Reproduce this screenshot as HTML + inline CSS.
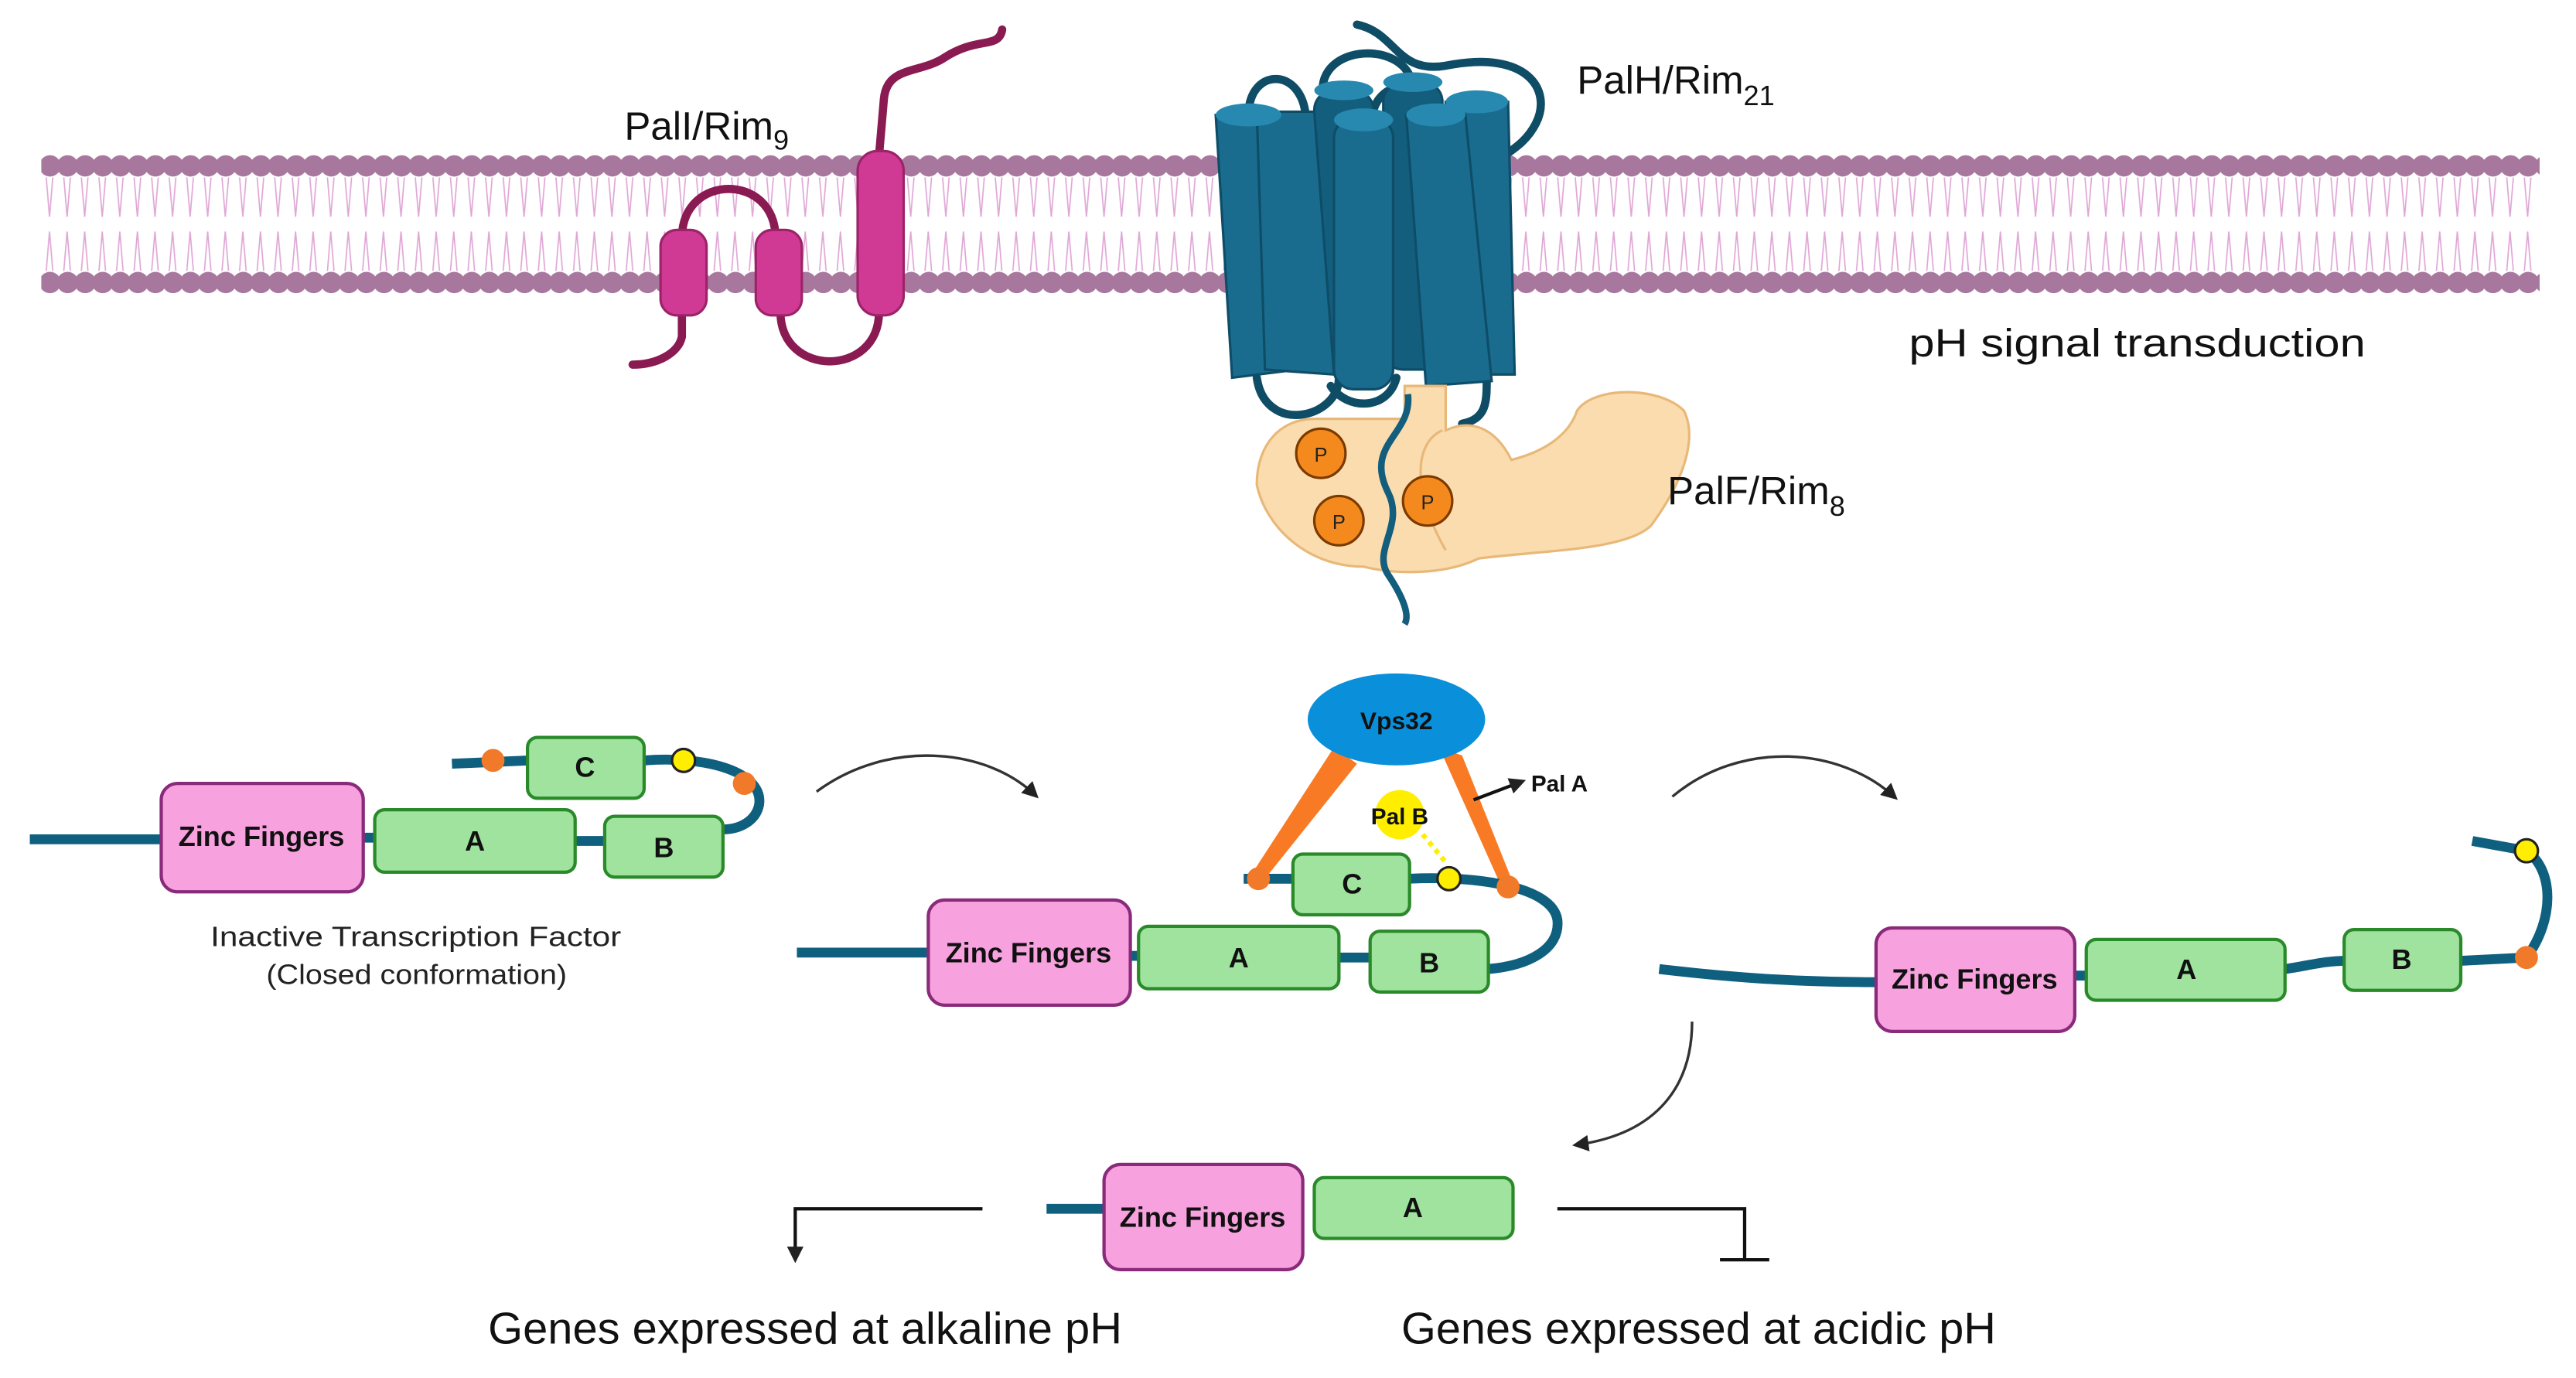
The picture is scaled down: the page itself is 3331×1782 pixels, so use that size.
<!DOCTYPE html>
<html><head><meta charset="utf-8"><style>
html,body{margin:0;padding:0;background:#fff}
svg{display:block}
text{font-family:"Liberation Sans",sans-serif}
</style></head><body>
<svg width="3331" height="1782" viewBox="0 0 1568 839" xmlns="http://www.w3.org/2000/svg">
<defs>
<pattern id="lip" x="25" y="0" width="10.7" height="839" patternUnits="userSpaceOnUse">
<path d="M3,108 L5,132 M7,108 L5,132 M3,165 L5,141 M7,165 L5,141" stroke="#e0a6d6" stroke-width="0.8" fill="none"/>
<circle cx="5.3" cy="101" r="6.5" fill="#a8779e"/>
<circle cx="5.3" cy="172" r="6.5" fill="#a8779e"/>
</pattern>
<marker id="ah" markerWidth="10" markerHeight="10" refX="7" refY="5" orient="auto" markerUnits="userSpaceOnUse">
<path d="M0,0 L10,5 L0,10 z" fill="#222"/>
</marker>
</defs>
<rect x="25" y="90" width="1521" height="92" fill="url(#lip)"/>

<!-- PalI -->
<g fill="none" stroke="#8a1a52" stroke-width="5" stroke-linecap="round">
<path d="M415,145 C415,105 472,105 472,145"/>
<path d="M415,190 L415,205 C413,215 400,222 385,222"/>
<path d="M475,190 C475,230 535,230 535,190"/>
<path d="M535,95 L538,60 C540,40 560,45 575,35 C595,22 608,30 610,18"/>
</g>
<g fill="#d13a94" stroke="#9c2368" stroke-width="1.5">
<rect x="402" y="140" width="28" height="52" rx="10"/>
<rect x="460" y="140" width="28" height="52" rx="10"/>
<rect x="522" y="92" width="28" height="100" rx="12"/>
</g>
<text x="380" y="85" font-size="24" fill="#111">PalI/Rim<tspan font-size="17" dy="6">9</tspan></text>

<!-- PalH -->
<g fill="none" stroke="#0f4d66" stroke-width="5" stroke-linecap="round">
<path d="M826,15 C850,20 850,45 880,40 C930,30 945,55 935,75 C925,95 905,95 905,110"/>
<path d="M760,70 C760,40 795,40 795,75"/>
<path d="M805,55 C805,25 860,25 860,55"/>
<path d="M835,75 C835,45 875,45 875,75"/>
<path d="M765,230 C770,265 815,255 815,230"/>
<path d="M810,235 C820,250 845,250 850,230"/>
<path d="M905,230 C905,245 905,255 890,258"/>
</g>
<g fill="#1a6c8f" stroke="#0e4d68" stroke-width="1.5">
<rect x="800" y="55" width="36" height="170" rx="12" fill="#135d7d"/>
<rect x="842" y="50" width="36" height="175" rx="12" fill="#135d7d"/>
<polygon points="740,70 780,70 790,225 750,230" />
<polygon points="880,62 918,62 922,228 888,228" />
<polygon points="765,68 800,68 812,228 770,225" />
<rect x="812" y="72" width="36" height="165" rx="12"/>
<polygon points="856,70 892,70 908,232 868,235"/>
</g>
<g fill="#2789b0">
<ellipse cx="760" cy="70" rx="20" ry="7"/><ellipse cx="830" cy="73" rx="18" ry="7"/>
<ellipse cx="874" cy="70" rx="18" ry="7"/><ellipse cx="899" cy="62" rx="19" ry="7"/>
<ellipse cx="860" cy="50" rx="18" ry="6"/><ellipse cx="818" cy="55" rx="18" ry="6"/>
</g>
<text x="960" y="57" font-size="24" fill="#111">PalH/Rim<tspan font-size="17" dy="7">21</tspan></text>
<text x="1162" y="217" font-size="24" fill="#111" textLength="278" lengthAdjust="spacingAndGlyphs">pH signal transduction</text>

<!-- PalF -->
<path d="M855,235 L880,235 L880,262 C895,255 910,260 920,280 C940,275 955,265 960,250 C970,235 1010,235 1025,250 C1035,270 1020,300 1005,320 C990,335 940,335 900,340 C880,350 850,350 830,345 C795,345 770,320 765,295 C765,270 780,255 800,255 L855,255 z" fill="#fbdcaf" stroke="#e8b878" stroke-width="1.5"/>
<path d="M878,262 C860,270 860,300 880,335" fill="none" stroke="#e8b878" stroke-width="1.5"/>
<path d="M857,240 C860,265 830,270 845,300 C855,320 835,335 845,350 C855,365 858,375 855,380" fill="none" stroke="#135d7d" stroke-width="4"/>
<g fill="#f48a1e" stroke="#7a3a00" stroke-width="1.5">
<circle cx="804" cy="276" r="15"/><circle cx="869" cy="305" r="15"/><circle cx="815" cy="317" r="15"/>
</g>
<g font-size="12" fill="#222" text-anchor="middle"><text x="804" y="281">P</text><text x="869" y="310">P</text><text x="815" y="322">P</text></g>
<text x="1015" y="307" font-size="24" fill="#111">PalF/Rim<tspan font-size="17" dy="7">8</tspan></text>

<!-- Left inactive TF -->
<g fill="none" stroke="#0f5f7f" stroke-width="6">
<path d="M18,511 L100,511"/><path d="M220,510 L230,510 M350,512 L370,512"/>
<path d="M275,465 L322,463 M392,463 C430,460 465,470 462,490 C460,500 450,505 440,505"/>
</g>
<g stroke-width="2">
<rect x="98" y="477" width="123" height="66" rx="10" fill="#f7a1df" stroke="#8a2a7a"/>
<rect x="228" y="493" width="122" height="38" rx="6" fill="#9fe39f" stroke="#2a8a2a"/>
<rect x="368" y="497" width="72" height="37" rx="6" fill="#9fe39f" stroke="#2a8a2a"/>
<rect x="321" y="449" width="71" height="37" rx="6" fill="#9fe39f" stroke="#2a8a2a"/>
</g>
<circle cx="300" cy="463" r="7" fill="#f07a2a"/><circle cx="416" cy="463" r="7" fill="#ffee00" stroke="#222" stroke-width="1.5"/><circle cx="453" cy="477" r="7" fill="#f07a2a"/>
<g font-weight="bold" font-size="17" fill="#111" text-anchor="middle">
<text x="159" y="515">Zinc Fingers</text><text x="289" y="518">A</text><text x="404" y="522">B</text><text x="356" y="473">C</text>
</g>
<g font-size="17" fill="#222">
<text x="128" y="576" textLength="250" lengthAdjust="spacingAndGlyphs">Inactive Transcription Factor</text>
<text x="162" y="599" textLength="183" lengthAdjust="spacingAndGlyphs">(Closed conformation)</text></g>

<path d="M497,482 C540,450 600,455 630,484" fill="none" stroke="#333" stroke-width="1.6" marker-end="url(#ah)"/>
<path d="M1018,485 C1060,450 1120,455 1153,485" fill="none" stroke="#333" stroke-width="1.6" marker-end="url(#ah)"/>
<path d="M1030,622 C1030,660 1010,690 960,697" fill="none" stroke="#333" stroke-width="1.6" marker-end="url(#ah)"/>

<!-- Middle -->
<polygon points="812,455 826,465 770,535 762,532" fill="#f97a24"/>
<polygon points="876,455 890,460 922,540 914,540" fill="#f97a24"/>
<ellipse cx="850" cy="438" rx="54" ry="28" fill="#0a90da"/>
<text x="850" y="444" font-size="15" font-weight="bold" text-anchor="middle" fill="#111">Vps32</text>
<circle cx="852" cy="496" r="15" fill="#ffee00"/>
<path d="M866,508 L880,525" stroke="#ffee00" stroke-width="3" stroke-dasharray="3,3"/>
<text x="852" y="502" font-size="14" font-weight="bold" text-anchor="middle" fill="#111">Pal B</text>
<path d="M897,487 L926,476" stroke="#111" stroke-width="2" marker-end="url(#ah)"/>
<text x="932" y="482" font-size="14" font-weight="bold" fill="#111">Pal A</text>
<g fill="none" stroke="#0f5f7f" stroke-width="6">
<path d="M485,580 L566,580 M688,582 L695,582 M815,583 L835,583"/>
<path d="M757,535 L788,535 M858,535 C900,533 945,540 948,560 C950,578 930,588 906,590"/>
</g>
<g stroke-width="2">
<rect x="565" y="548" width="123" height="64" rx="10" fill="#f7a1df" stroke="#8a2a7a"/>
<rect x="693" y="564" width="122" height="38" rx="6" fill="#9fe39f" stroke="#2a8a2a"/>
<rect x="834" y="567" width="72" height="37" rx="6" fill="#9fe39f" stroke="#2a8a2a"/>
<rect x="787" y="520" width="71" height="37" rx="6" fill="#9fe39f" stroke="#2a8a2a"/>
</g>
<circle cx="766" cy="535" r="7" fill="#f07a2a"/><circle cx="882" cy="535" r="7" fill="#ffee00" stroke="#222" stroke-width="1.5"/><circle cx="918" cy="540" r="7" fill="#f07a2a"/>
<g font-weight="bold" font-size="17" fill="#111" text-anchor="middle">
<text x="626" y="586">Zinc Fingers</text><text x="754" y="589">A</text><text x="870" y="592">B</text><text x="823" y="544">C</text>
</g>

<!-- Right -->
<g fill="none" stroke="#0f5f7f" stroke-width="6">
<path d="M1010,590 C1060,596 1100,598 1144,598 M1263,594 L1272,594"/>
<path d="M1391,590 C1405,588 1415,585 1428,585 M1498,585 L1538,583"/>
<path d="M1538,583 C1555,560 1555,530 1538,518 L1505,512"/>
</g>
<g stroke-width="2">
<rect x="1142" y="565" width="121" height="63" rx="10" fill="#f7a1df" stroke="#8a2a7a"/>
<rect x="1270" y="572" width="121" height="37" rx="6" fill="#9fe39f" stroke="#2a8a2a"/>
<rect x="1427" y="566" width="71" height="37" rx="6" fill="#9fe39f" stroke="#2a8a2a"/>
</g>
<circle cx="1538" cy="583" r="7" fill="#f07a2a"/><circle cx="1538" cy="518" r="7" fill="#ffee00" stroke="#222" stroke-width="1.5"/>
<g font-weight="bold" font-size="17" fill="#111" text-anchor="middle">
<text x="1202" y="602">Zinc Fingers</text><text x="1331" y="596">A</text><text x="1462" y="590">B</text>
</g>

<!-- Bottom -->
<path d="M637,736 L673,736" stroke="#0f5f7f" stroke-width="6"/>
<g stroke-width="2">
<rect x="672" y="709" width="121" height="64" rx="10" fill="#f7a1df" stroke="#8a2a7a"/>
<rect x="800" y="717" width="121" height="37" rx="6" fill="#9fe39f" stroke="#2a8a2a"/>
</g>
<g font-weight="bold" font-size="17" fill="#111" text-anchor="middle">
<text x="732" y="747">Zinc Fingers</text><text x="860" y="741">A</text>
</g>
<path d="M598,736 L484,736 L484,766" fill="none" stroke="#111" stroke-width="2" marker-end="url(#ah)"/>
<path d="M948,736 L1062,736 L1062,767 M1047,767 L1077,767" fill="none" stroke="#111" stroke-width="2"/>
<g font-size="27" fill="#111">
<text x="297" y="818" textLength="386" lengthAdjust="spacingAndGlyphs">Genes expressed at alkaline pH</text>
<text x="853" y="818" textLength="362" lengthAdjust="spacingAndGlyphs">Genes expressed at acidic pH</text>
</g>
</svg>
</body></html>
